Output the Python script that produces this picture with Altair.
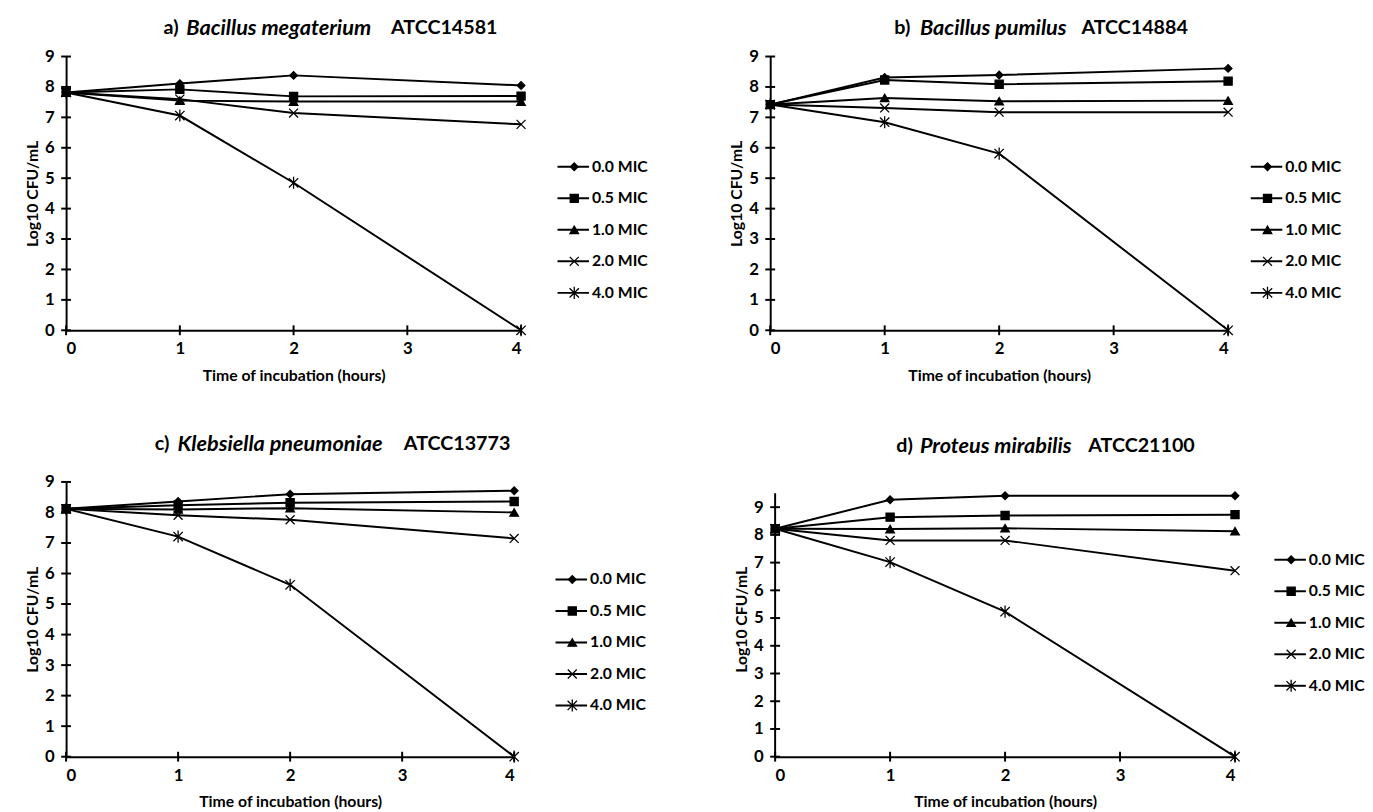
import altair as alt
import pandas as pd

hours = [0, 1, 2, 4]
series = ["0.0 MIC", "0.5 MIC", "1.0 MIC", "2.0 MIC", "4.0 MIC"]
x_ticks = [0, 1, 2, 3, 4]
y_ticks = [0, 1, 2, 3, 4, 5, 6, 7, 8, 9]

# a) Bacillus megaterium ATCC14581
a_vals = [
    [7.82, 8.11, 8.38, 8.05],
    [7.82, 7.92, 7.69, 7.70],
    [7.82, 7.55, 7.52, 7.52],
    [7.82, 7.60, 7.14, 6.77],
    [7.82, 7.06, 4.85, 0.0],
]
# b) Bacillus pumilus ATCC14884
b_vals = [
    [7.42, 8.31, 8.39, 8.61],
    [7.42, 8.23, 8.09, 8.19],
    [7.42, 7.64, 7.53, 7.55],
    [7.42, 7.31, 7.17, 7.17],
    [7.42, 6.84, 5.81, 0.0],
]
# c) Klebsiella pneumoniae ATCC13773
c_vals = [
    [8.12, 8.36, 8.60, 8.71],
    [8.12, 8.24, 8.32, 8.36],
    [8.12, 8.10, 8.14, 8.00],
    [8.12, 7.91, 7.76, 7.15],
    [8.12, 7.21, 5.63, 0.0],
]
# d) Proteus mirabilis ATCC21100
d_vals = [
    [8.22, 9.27, 9.41, 9.41],
    [8.22, 8.64, 8.70, 8.73],
    [8.22, 8.21, 8.24, 8.13],
    [8.22, 7.80, 7.80, 6.71],
    [8.22, 7.02, 5.23, 0.0],
]

FONT = "Lato"
X_PATH = "M-1,-1L1,1M-1,1L1,-1"
AST_PATH = "M-1,-1L1,1M-1,1L1,-1M0,-1.3L0,1.3"
shape_scale = alt.Scale(domain=series, range=["diamond", "square", "triangle-up", X_PATH, AST_PATH])
size_scale = alt.Scale(domain=series, range=[60, 90, 70, 60, 70])


def panel(vals, prefix, species, suffix, width, height, ymax, axis_top,
          title_x, title_y, leg_x, leg_y, leg_gap, ytitle_pad):
    rows = []
    for s, v in zip(series, vals):
        for h, val in zip(hours, v):
            rows.append({"series": s, "hour": h, "value": val})
    df = pd.DataFrame(rows)

    custom_domain = axis_top < ymax
    xenc = alt.X("hour:Q", scale=alt.Scale(domain=[0, 4], nice=False, zero=False),
                 axis=alt.Axis(values=x_ticks, title="Time of incubation (hours)", ticks=False,
                               labelPadding=11, titlePadding=11, format="d"))
    yenc = alt.Y("value:Q", scale=alt.Scale(domain=[0, ymax], nice=False, zero=True),
                 axis=alt.Axis(values=y_ticks, title="Log10 CFU/mL", ticks=False,
                               domain=not custom_domain,
                               labelPadding=12, titlePadding=ytitle_pad, format="d"))

    base = alt.Chart(df)
    lines = base.mark_line(color="black", strokeWidth=2).encode(
        x=xenc, y=yenc, detail="series:N")
    pts = base.mark_point(filled=True, fill="black", stroke="black", strokeWidth=1.3,
                          opacity=1).encode(
        x=xenc, y=yenc,
        shape=alt.Shape("series:N", scale=shape_scale, legend=None),
        size=alt.Size("series:N", scale=size_scale, legend=None))

    xt = pd.DataFrame({"hour": x_ticks})
    xtick = alt.Chart(xt).mark_rule(color="black", strokeWidth=2).encode(
        x=xenc, y=alt.value(height - 5), y2=alt.value(height + 5))
    yt = pd.DataFrame({"value": y_ticks})
    ytick = alt.Chart(yt).mark_rule(color="black", strokeWidth=2).encode(
        y=yenc, x=alt.value(-5), x2=alt.value(5))

    layers = [lines, xtick, ytick]
    if custom_domain:
        ax = pd.DataFrame({"hour": [0], "value": [0], "top": [axis_top]})
        layers.append(alt.Chart(ax).mark_rule(color="black", strokeWidth=2).encode(
            x=xenc, y=yenc, y2="top:Q"))
    layers.append(pts)

    leg_df = pd.DataFrame({"series": series, "idx": list(range(len(series)))})
    leg = alt.Chart(leg_df).transform_calculate(ly=f"datum.idx * {leg_gap} + {leg_y}")
    lrule = leg.mark_rule(color="black", strokeWidth=2).encode(
        x=alt.value(leg_x), x2=alt.value(leg_x + 32),
        y=alt.Y("ly:Q", scale=None, axis=None))
    lpts = leg.mark_point(filled=True, fill="black", stroke="black", strokeWidth=1.3,
                          opacity=1).encode(
        x=alt.value(leg_x + 17), y=alt.Y("ly:Q", scale=None, axis=None),
        shape=alt.Shape("series:N", scale=shape_scale, legend=None),
        size=alt.Size("series:N", scale=size_scale, legend=None))
    ltxt = leg.mark_text(align="left", baseline="middle", font=FONT, fontSize=16,
                         fontWeight="bold", color="black").encode(
        x=alt.value(leg_x + 35), y=alt.Y("ly:Q", scale=None, axis=None),
        text="series:N")
    layers += [lrule, lpts, ltxt]

    tdf = pd.DataFrame({"p": [prefix], "s": [species], "q": [suffix]})
    tb = alt.Chart(tdf)
    for key, xx, style, fs in [("p", title_x[0], "normal", 20), ("s", title_x[1], "italic", 22),
                               ("q", title_x[2], "normal", 20)]:
        layers.append(tb.mark_text(align="left", baseline="middle", font=FONT, fontSize=fs,
                                   fontWeight="bold", fontStyle=style, color="black").encode(
            x=alt.value(xx), y=alt.value(title_y), text=f"{key}:N"))

    return alt.layer(*layers).properties(width=width, height=height)


pa = panel(a_vals, "a)", "Bacillus megaterium", "ATCC14581", 462, 278, 9, 9,
           [99, 122, 330], -29, 499, 112, 32, 4)
pb = panel(b_vals, "b)", "Bacillus pumilus", "ATCC14884", 465, 278, 9, 9,
           [126, 152, 316], -29, 488, 112, 32, 4)
pc = panel(c_vals, "c)", "Klebsiella pneumoniae", "ATCC13773", 455, 279, 9, 9,
           [90, 113, 343], -38, 497, 99, 32, 4)
pd_ = panel(d_vals, "d)", "Proteus mirabilis", "ATCC21100", 467, 279, 9.91, 9.5,
            [123, 147, 318], -36, 507, 79, 32, 4)

row1 = alt.hconcat(pa, pb, spacing=82)
row2 = alt.hconcat(pc, pd_, spacing=89)
chart = alt.vconcat(row1, row2, spacing=51).configure_view(stroke=None).configure_axis(
    domainColor="black", domainWidth=2, labelFont=FONT, labelFontSize=17,
    labelFontWeight="bold", labelColor="black", titleFont=FONT, titleFontSize=16,
    titleFontWeight="bold", titleColor="black", grid=False
).properties(background="white", padding={"left": 17, "top": 3, "right": 0, "bottom": 3})

chart.save("out.html", embed_options={"renderer": "svg", "actions": False})
